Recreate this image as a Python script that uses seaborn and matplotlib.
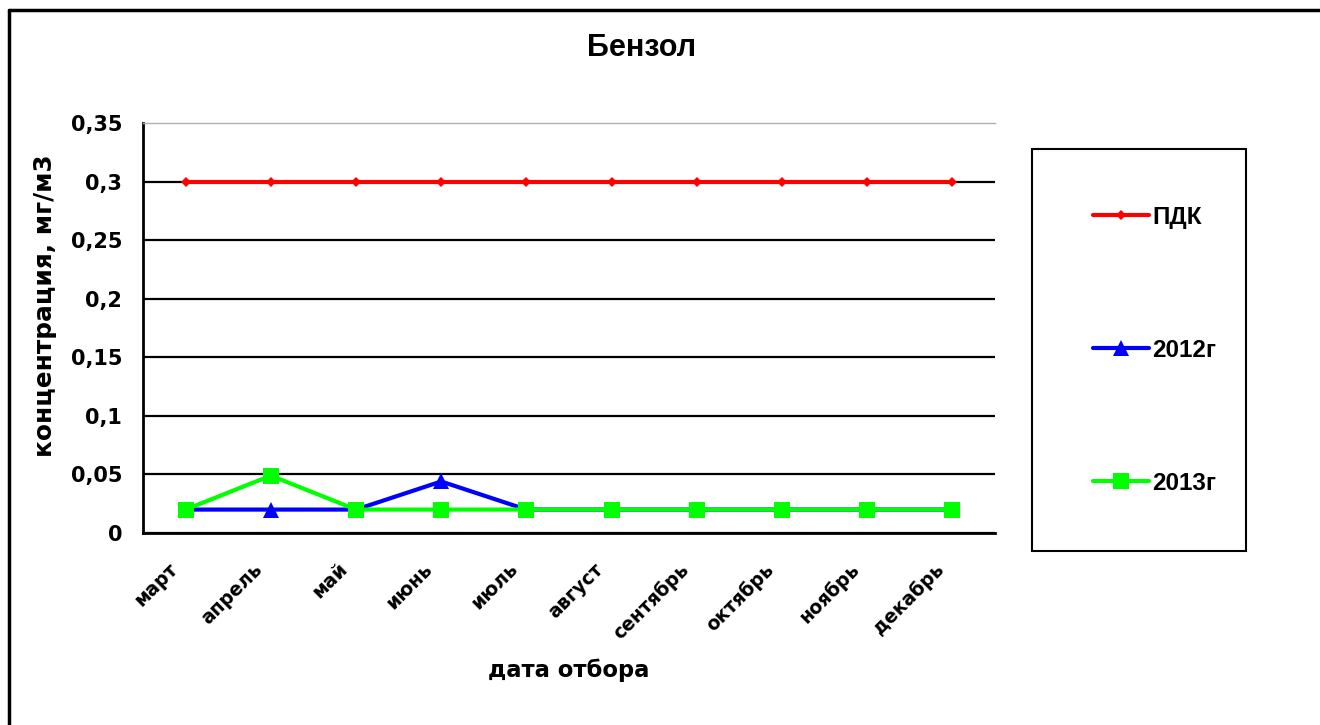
import matplotlib
matplotlib.use('Agg')
import matplotlib.pyplot as plt
import matplotlib.transforms as mtransforms
from matplotlib.patches import Rectangle
from matplotlib.lines import Line2D
import seaborn as sns
import pandas as pd
import numpy as np

# ---- data ----
months = ['март', 'апрель', 'май', 'июнь', 'июль', 'август',
          'сентябрь', 'октябрь', 'ноябрь', 'декабрь']
pdk = [0.3, 0.3, 0.3, 0.3, 0.3, 0.3, 0.3, 0.3, 0.3, 0.3]
y2012 = [0.02, 0.02, 0.02, 0.044, 0.02, 0.02, 0.02, 0.02, 0.02, 0.02]
y2013 = [0.02, 0.049, 0.02, 0.02, 0.02, 0.02, 0.02, 0.02, 0.02, 0.02]
series_names = ['ПДК', '2012г', '2013г']
yticks = [0, 0.05, 0.1, 0.15, 0.2, 0.25, 0.3, 0.35]
ytick_labels = ['0', '0,05', '0,1', '0,15', '0,2', '0,25', '0,3', '0,35']
title = 'Бензол'
xlabel = 'дата отбора'
ylabel = 'концентрация, мг/м3'

sns.set_theme(style='white')
plt.rcParams['font.family'] = ['Liberation Sans', 'DejaVu Sans']
plt.rcParams['text.color'] = 'black'
plt.rcParams['xtick.color'] = 'black'
plt.rcParams['ytick.color'] = 'black'
plt.rcParams['axes.labelcolor'] = 'black'

W, H = 1320, 725
fig = plt.figure(figsize=(W / 100, H / 100), dpi=100)
fig.patch.set_facecolor('white')
ax = fig.add_axes([143 / W, 1 - 533 / H, 852 / W, 410 / H])

pos = list(range(len(months)))
df = pd.DataFrame({'pos': pos, series_names[0]: pdk,
                   series_names[1]: y2012, series_names[2]: y2013})

styles = [
    dict(color='#FF0000', marker='D', markersize=5.5),
    dict(color='#0000FF', marker='^', markersize=12),
    dict(color='#00FF00', marker='s', markersize=11),
]
for name, st in zip(series_names, styles):
    sns.lineplot(data=df, x='pos', y=name, ax=ax, color=st['color'],
                 marker=st['marker'], markersize=st['markersize'],
                 markeredgewidth=0, linewidth=3, label=name, sort=False,
                 zorder=3)

ax.set_xlim(-0.5, len(months) - 0.5)
ax.set_ylim(0, 0.35)
ax.set_yticks(yticks)
ax.set_yticklabels(ytick_labels, fontfamily='DejaVu Sans', fontweight='bold',
                   fontsize=15, color='black')
ax.set_xticks(pos)
ax.set_xticklabels(months, rotation=45, ha='right', va='top',
                   rotation_mode='anchor', fontfamily='DejaVu Sans',
                   fontweight='bold', fontsize=13.5, color='black')
ax.set_xticks(np.arange(-0.5, len(months), 1), minor=True)
ax.tick_params(axis='x', which='major', length=0, pad=19)
ax.tick_params(axis='x', which='minor', length=7, width=1.5, color='black',
               direction='out')
ax.tick_params(axis='y', which='major', length=7, width=1.5, color='black',
               direction='out', pad=8)
offset = mtransforms.ScaledTranslation(-18 / 100, 0, fig.dpi_scale_trans)
for lab in ax.get_xticklabels():
    lab.set_transform(lab.get_transform() + offset)

ax.yaxis.grid(True, color='black', linewidth=1.6)
ax.xaxis.grid(False)
ax.get_ygridlines()[-1].set_visible(False)
for s in ['left', 'bottom']:
    ax.spines[s].set_color('black')
    ax.spines[s].set_linewidth(2)
ax.spines['right'].set_visible(False)
ax.spines['top'].set_color('#b0b0b0')
ax.spines['top'].set_linewidth(1)
ax.set_xlabel('')
ax.set_ylabel('')

fig.text(642 / W, 1 - 48 / H, title, ha='center', va='center',
         fontsize=22, fontweight='bold', color='black')
fig.text(569 / W, 1 - 670 / H, xlabel, ha='center', va='center',
         fontsize=16.3, fontweight='bold', fontfamily='DejaVu Sans',
         color='black')
fig.text(45 / W, 1 - 306 / H, ylabel, ha='center', va='center', rotation=90,
         fontsize=17.8, fontweight='bold', fontfamily='DejaVu Sans',
         color='black')

# legend
ax.get_legend().remove()
handles, labels = ax.get_legend_handles_labels()
leg = fig.legend(handles, labels, loc='upper left',
                 bbox_to_anchor=(1093 / W, 1 - 206 / H),
                 bbox_transform=fig.transFigure, frameon=False,
                 borderpad=0, borderaxespad=0, handlelength=2.3,
                 handletextpad=0.15, labelspacing=4.52,
                 prop=dict(family='Liberation Sans', weight='bold', size=17.5))
for t in leg.get_texts():
    t.set_color('black')
fig.add_artist(Rectangle((1032 / W, 1 - 551 / H), 214 / W, 402 / H,
                         transform=fig.transFigure, fill=False,
                         edgecolor='black', linewidth=1.5))
# outer chart border (cropped on right and bottom)
fig.add_artist(Line2D([8.5 / W, 1.05], [1 - 9.5 / H, 1 - 9.5 / H],
                      transform=fig.transFigure, color='black', linewidth=2.5))
fig.add_artist(Line2D([8.5 / W, 8.5 / W], [-0.05, 1 - 9.5 / H],
                      transform=fig.transFigure, color='black', linewidth=2.5))

fig.savefig('out.png', dpi=100)
